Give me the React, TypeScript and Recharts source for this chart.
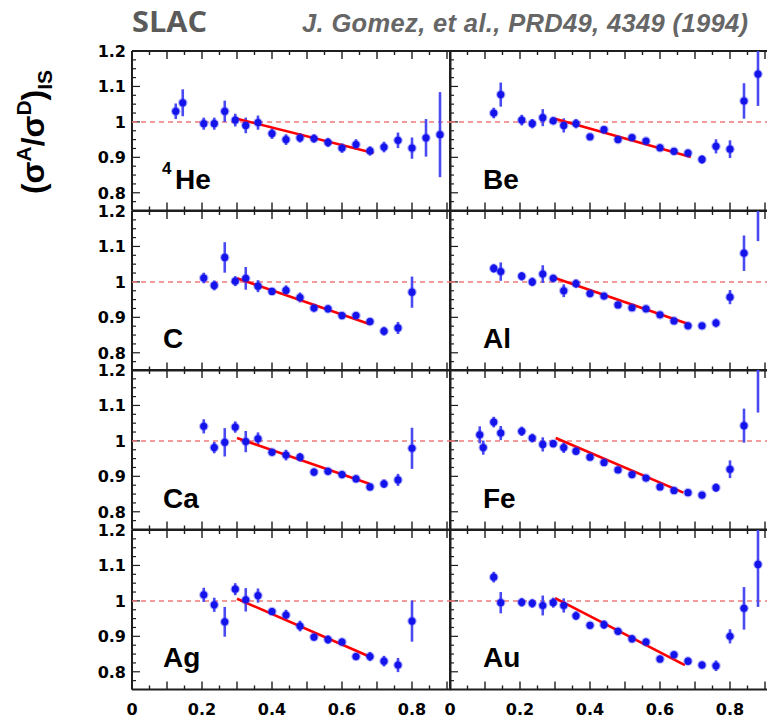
import React from 'react';
import { ScatterChart, Scatter, XAxis, YAxis, ErrorBar, ReferenceLine } from 'recharts';

// ---------- data ----------
const X_BINS = [0.085, 0.095, 0.125, 0.145, 0.205, 0.235, 0.265, 0.295, 0.325, 0.36, 0.4, 0.44, 0.48, 0.52, 0.56, 0.6, 0.64, 0.68, 0.72, 0.76, 0.8, 0.84, 0.88];

const HE_Y = [null, null, 1.030, 1.054, 0.995, 0.995, 1.030, 1.005, 0.990, 0.998, 0.967, 0.950, 0.955, 0.953, 0.942, 0.926, 0.936, 0.918, 0.929, 0.948, 0.926, 0.955, 0.964];
const HE_ERR = [null, null, 0.022, 0.038, 0.017, 0.017, 0.030, 0.018, 0.022, 0.020, 0.015, 0.015, 0.013, 0.012, 0.013, 0.013, 0.015, 0.013, 0.015, 0.022, 0.030, 0.053, 0.120];

const BE_Y = [null, null, 1.025, 1.077, 1.005, 0.995, 1.012, 1.003, 0.990, 0.995, 0.958, 0.978, 0.950, 0.956, 0.946, 0.927, 0.917, 0.912, 0.894, 0.931, 0.923, 1.059, 1.135];
const BE_ERR = [null, null, 0.015, 0.034, 0.015, 0.013, 0.024, 0.010, 0.020, 0.013, 0.007, 0.010, 0.008, 0.008, 0.008, 0.010, 0.008, 0.010, 0.012, 0.020, 0.025, 0.050, 0.090];

const C_Y = [null, null, null, null, 1.011, 0.990, 1.069, 1.002, 1.010, 0.988, 0.973, 0.976, 0.956, 0.926, 0.924, 0.905, 0.905, 0.888, 0.861, 0.870, 0.971, null, null];
const C_ERR = [null, null, null, null, 0.015, 0.014, 0.043, 0.014, 0.032, 0.017, 0.010, 0.014, 0.014, 0.010, 0.010, 0.010, 0.010, 0.010, 0.012, 0.017, 0.044, null, null];

const AL_Y = [null, null, 1.038, 1.029, 1.016, 1.000, 1.022, 1.010, 0.975, 0.995, 0.967, 0.960, 0.935, 0.927, 0.924, 0.907, 0.890, 0.876, 0.876, 0.884, 0.957, 1.081, 1.220];
const AL_ERR = [null, null, 0.012, 0.026, 0.012, 0.012, 0.025, 0.010, 0.018, 0.012, 0.008, 0.008, 0.008, 0.008, 0.008, 0.008, 0.008, 0.008, 0.008, 0.012, 0.020, 0.050, 0.105];

const CA_Y = [null, null, null, null, 1.041, 0.981, 0.996, 1.039, 0.998, 1.006, 0.968, 0.960, 0.954, 0.912, 0.914, 0.905, 0.893, 0.870, 0.879, 0.890, 0.979, null, null];
const CA_ERR = [null, null, null, null, 0.020, 0.016, 0.040, 0.016, 0.030, 0.018, 0.010, 0.015, 0.012, 0.010, 0.010, 0.010, 0.010, 0.010, 0.012, 0.017, 0.058, null, null];

const FE_Y = [1.017, 0.981, 1.053, 1.022, 1.027, 1.008, 0.990, 0.992, 0.981, 0.971, 0.954, 0.939, 0.918, 0.905, 0.895, 0.870, 0.860, 0.854, 0.847, 0.868, 0.920, 1.043, 1.210];
const FE_ERR = [0.024, 0.020, 0.015, 0.020, 0.013, 0.012, 0.020, 0.010, 0.015, 0.010, 0.008, 0.010, 0.008, 0.008, 0.008, 0.008, 0.008, 0.008, 0.008, 0.012, 0.025, 0.048, 0.130];

const AG_Y = [null, null, null, null, 1.017, 0.989, 0.941, 1.033, 1.003, 1.015, 0.970, 0.960, 0.929, 0.898, 0.891, 0.884, 0.843, 0.843, 0.830, 0.819, 0.943, null, null];
const AG_ERR = [null, null, null, null, 0.020, 0.020, 0.042, 0.017, 0.033, 0.020, 0.010, 0.015, 0.015, 0.010, 0.012, 0.010, 0.010, 0.013, 0.015, 0.020, 0.058, null, null];

const AU_Y = [null, null, 1.067, 0.995, 0.996, 0.993, 0.987, 0.995, 0.987, 0.958, 0.931, 0.933, 0.914, 0.893, 0.884, 0.836, 0.848, 0.830, 0.819, 0.817, 0.900, 0.979, 1.103];
const AU_ERR = [null, null, 0.015, 0.030, 0.012, 0.012, 0.028, 0.014, 0.020, 0.012, 0.008, 0.012, 0.010, 0.010, 0.010, 0.010, 0.010, 0.010, 0.010, 0.015, 0.020, 0.060, 0.120];

// fit lines: [x start, y start, x end, y end]
const HE_FIT = [0.3, 1.009, 0.69, 0.912];
const BE_FIT = [0.3, 1.009, 0.688, 0.901];
const C_FIT = [0.3, 1.010, 0.678, 0.881];
const AL_FIT = [0.3, 1.011, 0.681, 0.881];
const CA_FIT = [0.3, 1.008, 0.678, 0.879];
const FE_FIT = [0.302, 1.008, 0.667, 0.854];
const AG_FIT = [0.3, 1.006, 0.678, 0.843];
const AU_FIT = [0.3, 1.008, 0.671, 0.819];

const X_TICKS = [0, 0.05, 0.1, 0.15, 0.2, 0.25, 0.3, 0.35, 0.4, 0.45, 0.5, 0.55, 0.6, 0.65, 0.7, 0.75, 0.8, 0.85, 0.9];
const X_LABELS = [0, 0.2, 0.4, 0.6, 0.8];
const Y_TICKS = [0.775, 0.8, 0.825, 0.85, 0.875, 0.9, 0.925, 0.95, 0.975, 1, 1.025, 1.05, 1.075, 1.1, 1.125, 1.15, 1.175, 1.2];
const Y_LABELS = [0.8, 0.9, 1, 1.1, 1.2];
const X_DOMAIN = [0, 0.91];
const Y_DOMAIN = [0.75, 1.2];

const PANELS = [
  { name: 'He', ys: HE_Y, errs: HE_ERR, fit: HE_FIT, row: 0, col: 0 },
  { name: 'Be', ys: BE_Y, errs: BE_ERR, fit: BE_FIT, row: 0, col: 1 },
  { name: 'C', ys: C_Y, errs: C_ERR, fit: C_FIT, row: 1, col: 0 },
  { name: 'Al', ys: AL_Y, errs: AL_ERR, fit: AL_FIT, row: 1, col: 1 },
  { name: 'Ca', ys: CA_Y, errs: CA_ERR, fit: CA_FIT, row: 2, col: 0 },
  { name: 'Fe', ys: FE_Y, errs: FE_ERR, fit: FE_FIT, row: 2, col: 1 },
  { name: 'Ag', ys: AG_Y, errs: AG_ERR, fit: AG_FIT, row: 3, col: 0 },
  { name: 'Au', ys: AU_Y, errs: AU_ERR, fit: AU_FIT, row: 3, col: 1 },
];

// ---------- layout ----------
const ROW_TOPS = [51, 210.5, 370, 529.5];
const PLOT_H = 159.5;
const PLOT_W = 318.5;
const COL_X = [132, 450];
const FRAME = '#1e1e1e';
const TICK_FONT = '"DejaVu Sans", sans-serif';
const LABEL_FONT = '"Liberation Sans", Arial, sans-serif';

const isMajor = (v: number) => Math.abs(v * 10 - Math.round(v * 10)) < 1e-6;

const BottomTick = (props: any) => {
  const { x, y, payload, showLabel } = props;
  const v = payload.value;
  const len = isMajor(v) ? 8 : 4;
  return (
    <g>
      <line x1={x} x2={x} y1={y} y2={y - len} stroke={FRAME} strokeWidth={1.4} />
      {showLabel && X_LABELS.includes(v) && (
        <text x={x} y={y + 25} textAnchor="middle" fontFamily={TICK_FONT} fontWeight="bold" fontSize={16} fill="#000">
          {String(v)}
        </text>
      )}
    </g>
  );
};

const TopTick = (props: any) => {
  const { x, y, payload } = props;
  const len = isMajor(payload.value) ? 8 : 4;
  return <line x1={x} x2={x} y1={y} y2={y + len} stroke={FRAME} strokeWidth={1.4} />;
};

const LeftTick = (props: any) => {
  const { x, y, payload, showLabel } = props;
  const v = payload.value;
  const len = isMajor(v) ? 8 : 4;
  return (
    <g>
      <line x1={x} x2={x + len} y1={y} y2={y} stroke={FRAME} strokeWidth={1.2} />
      {showLabel && Y_LABELS.includes(v) && (
        <text x={x - 6} y={y} dy="0.36em" textAnchor="end" fontFamily={TICK_FONT} fontWeight="bold" fontSize={16} fill="#000">
          {String(v)}
        </text>
      )}
    </g>
  );
};

const Dot = (props: any) => {
  const { cx, cy } = props;
  if (cx == null || cy == null) return <g />;
  return (
    <g>
      <circle cx={cx} cy={cy} r={4.8} fill="#3030ff" opacity={0.35} />
      <circle cx={cx} cy={cy} r={3.6} fill="#1414ea" />
    </g>
  );
};

const Empty = () => <g />;

const toData = (ys: any[], errs: any[]) =>
  X_BINS.map((x, i) => ({ x, y: ys[i], err: errs[i] })).filter((d) => d.y != null);

// Frame, ticks and tick labels of one panel
const PanelAxes = ({ ys, errs, row, col }: any) => {
  const leftW = col === 0 ? 44 : 14;
  const rightW = 2;
  const topH = 10;
  const bottomH = row === 3 ? 30 : 2;
  const width = leftW + PLOT_W + rightW;
  const height = topH + PLOT_H + bottomH;
  const data = toData(ys, errs);
  return (
    <div style={{ position: 'absolute', left: COL_X[col] - leftW, top: ROW_TOPS[row] - topH, width, height }}>
      <ScatterChart width={width} height={height} margin={{ top: 0, right: 0, bottom: 0, left: 0 }}>
        <XAxis xAxisId="b" type="number" dataKey="x" domain={X_DOMAIN} allowDataOverflow ticks={X_TICKS} interval={0}
          orientation="bottom" height={bottomH} tickSize={0} tickMargin={0} tickLine={false}
          axisLine={{ stroke: FRAME, strokeWidth: 2 }} tick={<BottomTick showLabel={row === 3} />} />
        <XAxis xAxisId="t" type="number" dataKey="x" domain={X_DOMAIN} allowDataOverflow ticks={X_TICKS} interval={0}
          orientation="top" height={topH} tickSize={0} tickMargin={0} tickLine={false}
          axisLine={{ stroke: FRAME, strokeWidth: 2 }} tick={<TopTick />} />
        <YAxis yAxisId="l" type="number" dataKey="y" domain={Y_DOMAIN} allowDataOverflow ticks={Y_TICKS} interval={0}
          orientation="left" width={leftW} tickSize={0} tickMargin={0} tickLine={false}
          axisLine={{ stroke: FRAME, strokeWidth: 2 }} tick={<LeftTick showLabel={col === 0} />} />
        <YAxis yAxisId="r" type="number" dataKey="y" domain={Y_DOMAIN} allowDataOverflow ticks={Y_TICKS} interval={0}
          orientation="right" width={rightW} tickSize={0} tickMargin={0} tickLine={false}
          axisLine={{ stroke: FRAME, strokeWidth: 2 }} tick={<Empty />} />
        <Scatter xAxisId="b" yAxisId="l" data={data} dataKey="y" isAnimationActive={false} shape={<Empty />} />
        <Scatter xAxisId="t" yAxisId="r" data={data} dataKey="y" isAnimationActive={false} shape={<Empty />} />
      </ScatterChart>
    </div>
  );
};

// Data marks of one panel, clipped to the plot rectangle
const PanelData = ({ ys, errs, fit, row, col }: any) => {
  const data = toData(ys, errs);
  return (
    <div style={{ position: 'absolute', left: COL_X[col], top: ROW_TOPS[row], width: PLOT_W, height: PLOT_H, overflow: 'hidden' }}>
      <ScatterChart width={PLOT_W} height={PLOT_H} margin={{ top: 0, right: 0, bottom: 0, left: 0 }}>
        <XAxis type="number" dataKey="x" domain={X_DOMAIN} allowDataOverflow hide />
        <YAxis type="number" dataKey="y" domain={Y_DOMAIN} allowDataOverflow hide />
        <ReferenceLine y={1} stroke="#f07a7a" strokeWidth={1.5} strokeDasharray="5 4" />
        <Scatter data={data} dataKey="y" isAnimationActive={false} shape={<Dot />}>
          <ErrorBar dataKey="err" direction="y" width={0} stroke="#4a4af2" strokeWidth={2.6} isAnimationActive={false} />
        </Scatter>
        <ReferenceLine
          segment={[{ x: fit[0], y: fit[1] }, { x: fit[2], y: fit[3] }]}
          stroke="#ff0000"
          strokeWidth={2.6}
        />
      </ScatterChart>
    </div>
  );
};

const LABEL_X = [163, 483];

export default function App() {
  return (
    <div style={{ position: 'absolute', left: 0, top: 0, width: 767, height: 718, overflow: 'hidden', background: '#fff' }}>
      {PANELS.map((p) => (
        <PanelAxes key={'a' + p.name} {...p} />
      ))}
      {PANELS.map((p) => (
        <PanelData key={'d' + p.name} {...p} />
      ))}
      <svg width={767} height={718} style={{ position: 'absolute', left: 0, top: 0, pointerEvents: 'none' }}>
        <text x={132} y={32} fontFamily='"Open Sans", sans-serif' fontWeight="bold" fontSize={28} fill="#5a5a5a"
          textLength={75} lengthAdjust="spacingAndGlyphs">
          SLAC
        </text>
        <text x={302} y={32} fontFamily={LABEL_FONT} fontWeight="bold" fontStyle="italic" fontSize={25.5} fill="#666" textLength={446}>
          J. Gomez, et al., PRD49, 4349 (1994)
        </text>
        <text
          transform="translate(44,132) rotate(-90)"
          textAnchor="middle"
          fontFamily={LABEL_FONT}
          fontWeight="bold"
          fontSize={32}
          fill="#000"
        >
          <tspan>(σ</tspan>
          <tspan fontSize={21} dy={-13}>A</tspan>
          <tspan dy={13}>/σ</tspan>
          <tspan fontSize={21} dy={-13}>D</tspan>
          <tspan dy={13}>)</tspan>
          <tspan fontSize={21} dy={8}>IS</tspan>
        </text>
        {PANELS.map((p) => {
          const bx = LABEL_X[p.col];
          const by = ROW_TOPS[p.row] + 137.5;
          if (p.name === 'He') {
            return (
              <g key={p.name}>
                <text x={bx - 1} y={by - 15} fontFamily={LABEL_FONT} fontWeight="bold" fontSize={17} fill="#000">4</text>
                <text x={bx + 12} y={by} fontFamily={LABEL_FONT} fontWeight="bold" fontSize={28} fill="#000">He</text>
              </g>
            );
          }
          return (
            <text key={p.name} x={bx} y={by} fontFamily={LABEL_FONT} fontWeight="bold" fontSize={28} fill="#000">
              {p.name}
            </text>
          );
        })}
      </svg>
    </div>
  );
}
